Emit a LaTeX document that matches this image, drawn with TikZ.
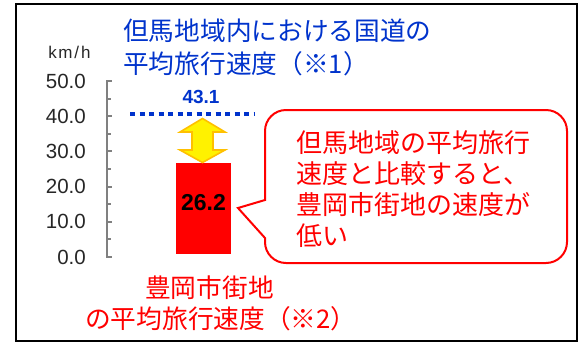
\documentclass[tikz,border=0pt]{standalone}
\usepackage{fontspec}
\setmainfont{Liberation Sans}
\newfontfamily\jp{Noto Sans CJK JP}
\definecolor{tblue}{RGB}{0,51,204}
\definecolor{tred}{RGB}{255,0,0}
\definecolor{aorange}{RGB}{255,192,0}
\definecolor{axgray}{RGB}{128,128,128}
\begin{document}
\begin{tikzpicture}[x=1pt,y=-1pt,
  jtitle/.style={inner sep=0pt,anchor=west,text=tblue,font=\jp\fontsize{25.7}{30}\selectfont},
  jred/.style={inner sep=0pt,anchor=west,text=tred,font=\jp\fontsize{25.7}{30}\selectfont},
  jcall/.style={inner sep=0pt,anchor=west,text=tred,font=\jp\fontsize{26}{30}\selectfont},
  ylab/.style={inner sep=0pt,anchor=east,font=\fontsize{20.5}{24}\selectfont,text=black!85},
]
\useasboundingbox (0,0) rectangle (581,346);
% frame
\draw[line width=2pt,black] (16,4) rectangle (577,341);
% titles
\node[jtitle] (t1) at (123,30.5) {但馬地域内における国道の};
\node[jtitle] (t2) at (123,63.5) {平均旅行速度（※1）};
% unit
\node[inner sep=0pt,font=\fontsize{17}{20}\selectfont,text=black!85] (unit) at (69.5,52) {k\kern1.5pt m\kern2pt/\kern2pt h};
% axis labels
\foreach \v/\yy in {50.0/81,40.0/116.2,30.0/151.4,20.0/186.6,10.0/221.8,0.0/257}{
  \node[ylab] at (86,\yy) {\v};
}
% axis
\coordinate (axtop) at (107,81);
\coordinate (axbot) at (107,257);
\draw[axgray,line width=2pt] (111.5,81) -- (axtop) -- (axbot) -- (111.5,257);
\foreach \i in {1,...,9}{
  \pgfmathsetmacro{\yy}{81+\i*17.6}
  \pgfmathsetmacro{\len}{ifthenelse(mod(\i,2)==0,111.5,110.5)}
  \draw[axgray,line width=2pt] (107,\yy) -- (\len,\yy);
}
% dotted average line
\coordinate (d1) at (130,114);
\coordinate (d2) at (254,114);
\draw[tblue,line width=4pt,dash pattern=on 5pt off 4.5pt] (d1) -- (d2);
\node[inner sep=0pt,text=tblue,font=\bfseries\fontsize{19}{22}\selectfont] (v431) at (201,97) {43.1};
% bar
\node[fill=tred,inner sep=0pt,minimum width=55pt,minimum height=91pt,anchor=north west] (bar) at (176,163) {};
\node[inner sep=0pt,font=\bfseries\fontsize{23}{26}\selectfont] (v262) at (203.5,203) {26.2};
% double arrow
\draw[aorange,fill=yellow,line width=1.6pt,line join=miter]
  (202.5,118.5) -- (225,132) -- (213,132) -- (213,150) -- (225,150) -- (202.5,162.5)
  -- (180,150) -- (192,150) -- (192,132) -- (180,132) -- cycle;
% bottom label
\node[jred] (b1) at (145,287.5) {豊岡市街地};
\node[jred] (b2) at (85,319) {の平均旅行速度（※2）};
% callout
\draw[tred,line width=2pt,line join=miter]
  (265,200) -- (265,131) arc (180:270:21) -- (546,110) arc (270:360:21)
  -- (567,242) arc (0:90:21) -- (286,263) arc (90:180:21)
  -- (265,238) -- (238,208) -- cycle;
\node[jcall] (c1) at (296,142.5) {但馬地域の平均旅行};
\node[jcall] (c2) at (296,173.5) {速度と比較すると、};
\node[jcall] (c3) at (296,205) {豊岡市街地の速度が};
\node[jcall] (c4) at (296,236) {低い};
\end{tikzpicture}
\end{document}
